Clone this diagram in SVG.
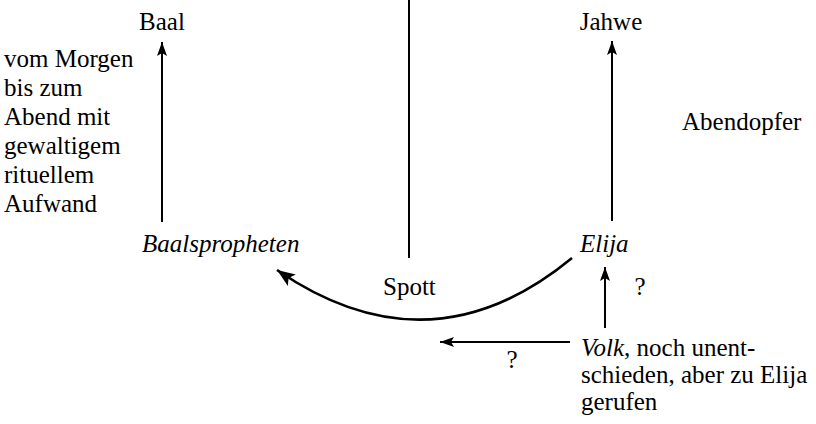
<svg xmlns="http://www.w3.org/2000/svg" width="816" height="424" viewBox="0 0 816 424">
<defs>
<style>
text{font-family:'Liberation Serif','Times New Roman','DejaVu Serif',serif;font-size:25px;fill:#000}
.it{font-style:italic}
.ln{stroke:#000;stroke-width:2;fill:none}
.cv{stroke:#000;stroke-width:2.6;fill:none}
</style>
<marker id="ah" viewBox="0 0 14 10" refX="14" refY="5" markerWidth="14" markerHeight="10" markerUnits="userSpaceOnUse" orient="auto">
<path d="M0,0 L14,5 L0,10 L3,5 Z" fill="#000"/>
</marker>
<marker id="ahb" viewBox="0 0 18 14" refX="18" refY="7" markerWidth="18" markerHeight="14" markerUnits="userSpaceOnUse" orient="auto">
<path d="M0,0 L18,7 L0,14 L4,7 Z" fill="#000"/>
</marker>
</defs>
<g id="connectors">
<line class="ln" x1="162" y1="222" x2="162" y2="42" marker-end="url(#ah)"/>
<line class="ln" x1="612" y1="221" x2="612" y2="41" marker-end="url(#ah)"/>
<line class="ln" x1="409" y1="0" x2="409" y2="258"/>
<path class="cv" d="M572,258 Q430,375 277,270" marker-end="url(#ahb)"/>
<line class="ln" x1="605" y1="328" x2="605" y2="267" marker-end="url(#ah)"/>
<line class="ln" x1="570" y1="342" x2="440" y2="342" marker-end="url(#ah)"/>
</g>
<g id="baal"><text x="162" y="30" text-anchor="middle">Baal</text></g>
<g id="jahwe"><text x="611" y="30" text-anchor="middle">Jahwe</text></g>
<g id="ritual">
<text x="4" y="67">vom Morgen</text>
<text x="4" y="96">bis zum</text>
<text x="4" y="125">Abend mit</text>
<text x="4" y="154">gewaltigem</text>
<text x="4" y="183">rituellem</text>
<text x="4" y="212">Aufwand</text>
</g>
<g id="abendopfer"><text x="682" y="130">Abendopfer</text></g>
<g id="baalspropheten"><text class="it" x="142" y="252">Baalspropheten</text></g>
<g id="elija"><text class="it" x="580" y="252">Elija</text></g>
<g id="spott"><text x="383" y="295">Spott</text></g>
<g id="q1"><text x="640" y="295" text-anchor="middle">?</text></g>
<g id="q2"><text x="512" y="368" text-anchor="middle">?</text></g>
<g id="volk">
<text x="581" y="356"><tspan class="it">Volk</tspan>, noch unent-</text>
<text x="581" y="383">schieden, aber zu Elija</text>
<text x="581" y="410">gerufen</text>
</g>
</svg>
